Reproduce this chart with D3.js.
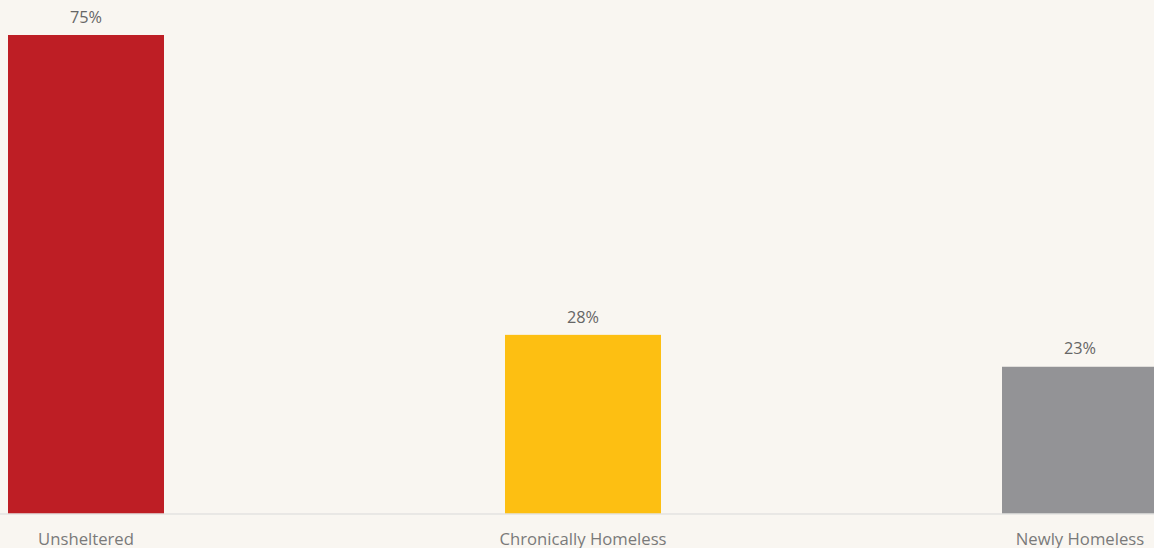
<!DOCTYPE html>
<html><head><meta charset="utf-8">
<script src="https://cdn.jsdelivr.net/npm/d3@7"></script>
<style>html,body{margin:0;padding:0;background:#f9f6f1;overflow:hidden}</style>
</head><body>
<svg id="c" width="1154" height="548"></svg>
<script>
const categories = ["Unsheltered", "Chronically Homeless", "Newly Homeless"];
const values = [75, 28, 23];
const colors = ["#be1e25", "#fdbf12", "#939396"];

const W = 1154, H = 548;
const svg = d3.select("#c");
svg.append("rect").attr("width", W).attr("height", H).attr("fill", "#f9f6f1");

const step = 497, p = 341/497;
const x = d3.scaleBand().domain(categories)
  .range([8 - p/2*step, 8 - p/2*step + step*categories.length])
  .paddingInner(p).paddingOuter(p/2);
const y = d3.scaleLinear().domain([0, 75]).range([513.5, 35]);

svg.selectAll("rect.bar").data(categories).join("rect")
  .attr("class", "bar")
  .attr("x", d => x(d)).attr("width", x.bandwidth())
  .attr("y", (d,i) => y(values[i])).attr("height", (d,i) => y(0) - y(values[i]))
  .attr("fill", (d,i) => colors[i]);

svg.append("line").attr("x1", 0).attr("x2", W).attr("y1", 514).attr("y2", 514)
  .attr("stroke", "#d9d9d9").attr("stroke-width", 1);

svg.selectAll("text.val").data(categories).join("text")
  .attr("class", "val")
  .attr("x", d => x(d) + x.bandwidth()/2)
  .attr("y", (d,i) => y(values[i]) - 12.3)
  .attr("text-anchor", "middle")
  .attr("font-family", "'Open Sans', sans-serif").attr("font-size", 16.3)
  .attr("fill", "#666")
  .text((d,i) => values[i] + "%");

svg.selectAll("text.cat").data(categories).join("text")
  .attr("class", "cat")
  .attr("x", d => x(d) + x.bandwidth()/2)
  .attr("y", 544.5)
  .attr("text-anchor", "middle")
  .attr("font-family", "'Open Sans', sans-serif").attr("font-size", 16.7)
  .attr("fill", "#7a7a7a")
  .text(d => d);
</script>
</body></html>
